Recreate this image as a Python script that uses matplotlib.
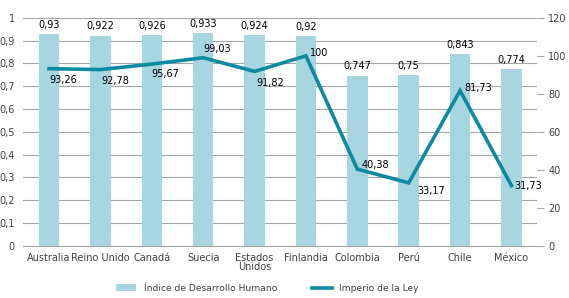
import matplotlib
matplotlib.use("Agg")
import matplotlib.pyplot as plt
import numpy as np

# data
paises = ["Australia", "Reino Unido", "Canadá", "Suecia", "Estados\nUnidos",
          "Finlandia", "Colombia", "Perú", "Chile", "México"]
idh = [0.93, 0.922, 0.926, 0.933, 0.924, 0.92, 0.747, 0.75, 0.843, 0.774]
imperio_ley = [93.26, 92.78, 95.67, 99.03, 91.82, 100, 40.38, 33.17, 81.73, 31.73]

# label offsets (points) for the line values, left aligned at the point
line_offsets = [(0, -8), (1, -8), (0, -7), (0, 6), (1, -8),
                (3, 2), (3, 3), (6, -6), (3, 2), (2, 0)]

BAR_COLOR = "#a7d6e0"
LINE_COLOR = "#0b8aa1"
GRID = "#a6a6a6"
TXT = "#404040"

plt.rcParams["font.family"] = ["Liberation Sans Narrow", "DejaVu Sans Condensed", "DejaVu Sans"]
plt.rcParams["font.size"] = 7

fig = plt.figure(figsize=(5.69, 2.98), dpi=100)
ax = fig.add_axes([0.041, 0.175, 0.903, 0.765])
ax2 = ax.twinx()

x = np.arange(len(paises))
bars = ax.bar(x, idh, 0.4, color=BAR_COLOR, label="Índice de Desarrollo Humano", zorder=2)
for xi, v in zip(x, idh):
    ax.annotate(f"{v:g}".replace(".", ","), (xi, v), xytext=(0, 3), textcoords="offset points",
                ha="center", va="bottom", fontsize=7, color="black")

ax.set_xlim(-0.5, len(paises) - 0.5)
ax.set_ylim(0, 1)
ax.set_yticks(np.arange(0, 1.01, 0.1))
ax.set_yticklabels(["0"] + [f"{t:.1f}".replace(".", ",") for t in np.arange(0.1, 0.95, 0.1)] + ["1"])
ax.grid(axis="y", color=GRID, lw=0.8, zorder=0)
ax.set_axisbelow(True)
ax.set_xticks(x)
ax.set_xticklabels(paises, color=TXT, linespacing=0.95)
ax.tick_params(axis="x", length=0, pad=5)
ax.tick_params(axis="y", length=0, pad=6, colors=TXT)
for s in ["top", "left", "right"]:
    ax.spines[s].set_visible(False)
ax.spines["bottom"].set_color(GRID)

line, = ax2.plot(x, imperio_ley, color=LINE_COLOR, lw=2.6, label="Imperio de la Ley",
                 solid_joinstyle="miter", zorder=3)
for xi, v, (dx, dy) in zip(x, imperio_ley, line_offsets):
    ax2.annotate(f"{v:g}".replace(".", ","), (xi, v), xytext=(dx, dy), textcoords="offset points",
                 ha="left", va="center", fontsize=7, color="black")
ax2.set_ylim(0, 120)
ax2.set_yticks(np.arange(0, 121, 20))
ax2.tick_params(axis="y", length=5, width=0.8, color=GRID, pad=3, colors=TXT)
for s in ["top", "left", "right", "bottom"]:
    ax2.spines[s].set_visible(False)

fig.legend(handles=[bars, line], loc="lower center", bbox_to_anchor=(0.47, -0.01), ncol=2,
           frameon=False, fontsize=6.6, handlelength=2.2, columnspacing=3.8, labelcolor=TXT)

fig.savefig("out.png", dpi=100)
